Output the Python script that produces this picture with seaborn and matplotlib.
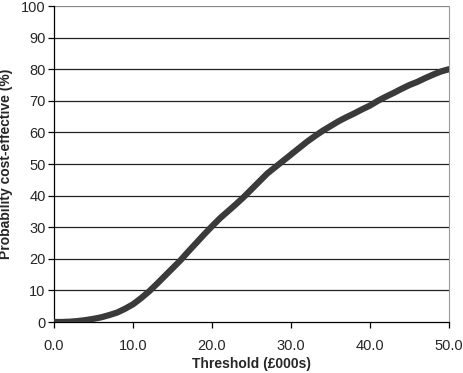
import numpy as np
import pandas as pd
import matplotlib
matplotlib.use("Agg")
import matplotlib.pyplot as plt
import seaborn as sns

# Cost-effectiveness acceptability curve
threshold = [0, 1, 2, 3, 4, 5, 6, 7, 8, 9, 10, 11, 12, 13, 14, 15, 16, 17,
             18, 19, 20, 21, 22, 23, 24, 25, 26, 27, 28, 29, 30, 31, 32, 33,
             34, 35, 36, 37, 38, 39, 40, 41, 42, 43, 44, 45, 46, 47, 48, 49, 50]
prob_ce = [0, 0, 0.1, 0.3, 0.6, 1.0, 1.5, 2.2, 3.0, 4.2, 5.6, 7.5, 9.6, 12.0,
           14.5, 17.0, 19.5, 22.3, 25.0, 27.7, 30.3, 32.8, 35.0, 37.2, 39.5,
           42.0, 44.5, 47.0, 49.0, 51.0, 53.0, 55.0, 57.0, 58.8, 60.5, 62.0,
           63.5, 64.8, 66.0, 67.3, 68.5, 70.0, 71.3, 72.5, 73.8, 75.0, 76.0,
           77.2, 78.3, 79.3, 80.0]
x_ticks = [0, 10, 20, 30, 40, 50]
y_ticks = [0, 10, 20, 30, 40, 50, 60, 70, 80, 90, 100]

df = pd.DataFrame({"threshold": threshold, "prob": prob_ce})

sns.set_style("white")
plt.rcParams["font.family"] = ["Liberation Sans", "DejaVu Sans"]

fig = plt.figure(figsize=(4.63, 3.73), dpi=100)
ax = fig.add_axes([0.1166, 0.1367, 0.8532, 0.8472])

# horizontal gridlines
for yv in y_ticks[1:]:
    ax.axhline(yv, color="#222222" if yv < 100 else "#888888", lw=0.9, zorder=1)

sns.lineplot(data=df, x="threshold", y="prob", ax=ax, color="#3a3a3a",
             lw=4.5, zorder=3)

ax.set_xlim(0, 50)
ax.set_ylim(0, 100)
ax.set_xticks(x_ticks)
ax.set_xticklabels([f"{v:.1f}" for v in x_ticks])
ax.set_yticks(y_ticks)
ax.tick_params(axis="both", direction="out", length=4, width=0.9,
               color="black", labelsize=10.5)
ax.tick_params(axis="x", pad=8, bottom=True)
ax.tick_params(axis="y", pad=2, left=True)

for s in ["left", "bottom"]:
    ax.spines[s].set_color("black")
    ax.spines[s].set_linewidth(0.9)
ax.spines["top"].set_visible(False)
ax.spines["right"].set_color("#999999")
ax.spines["right"].set_linewidth(0.8)

ax.set_xlabel("Threshold (£000s)", fontsize=10, fontweight="bold")
ax.set_ylabel("Probability cost-effective (%)", fontsize=10, fontweight="bold")
ax.xaxis.set_label_coords(0.5, -0.11)
ax.yaxis.set_label_coords(-0.103, 0.5)

fig.savefig("out.png", dpi=100)
